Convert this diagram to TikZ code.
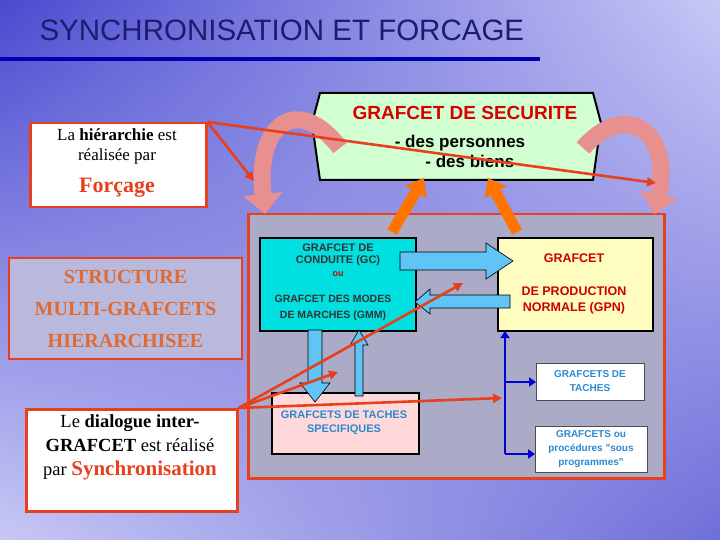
\documentclass[tikz,border=0pt]{standalone}
\usepackage{fontspec}
\setmainfont{Liberation Serif}
\newfontfamily\sans{Liberation Sans}
\usetikzlibrary{arrows.meta,shadings}
\definecolor{bgA}{HTML}{4A4AD0}
\definecolor{bgB}{HTML}{C8C8F6}
\definecolor{rd}{HTML}{E8401C}
\definecolor{orng}{HTML}{E06A30}
\definecolor{cy}{HTML}{00E0E0}
\definecolor{lb}{HTML}{60C4F4}
\definecolor{navy}{HTML}{1C1C70}
\definecolor{tb}{HTML}{2A8AD0}
\definecolor{pk}{HTML}{E89090}
\begin{document}
\begin{tikzpicture}[x=1pt,y=-1pt,
 redbox/.style={draw=rd,line width=2.5pt,fill=white},
 blkbox/.style={draw=black,line width=2pt},
 bluearr/.style={draw=black,fill=lb,line width=0.6pt},
 redln/.style={draw=rd,line width=2.6pt,-{Triangle[length=9pt,width=9pt]}},
 darkbl/.style={draw=blue!85!black,line width=2.4pt},
 pinkarr/.style={draw=pk,line width=17pt,-{Triangle[length=20pt,width=38pt]}},
 orarr/.style={draw=orange!90!red,line width=11pt,-{Triangle[length=16pt,width=24pt]}},
 gt/.style={font=\sans\bfseries\fontsize{11}{12}\selectfont,align=center}]
\useasboundingbox (0,0) rectangle (720,540);
\shade[upper left=bgA,upper right=bgB,lower left=bgB,lower right=bgA!80] (0,0) rectangle (720,540);
\node[font=\sans\fontsize{29.5}{31}\selectfont,text=navy,anchor=west] (title) at (36,30) {SYNCHRONISATION ET FORCAGE};
\fill[blue!70!black] (0,57) rectangle (540,61);
% left boxes
\node[redbox,minimum width=176pt,minimum height=84pt,anchor=north west,align=center,inner sep=0pt] (forc) at (29,122) {};
\node[align=center,font=\fontsize{17}{20}\selectfont] at (117,146) {La \textbf{hiérarchie} est\\réalisée par};
\node[text=rd,font=\bfseries\fontsize{22}{22}\selectfont] at (117,188) {Forçage};
\node[draw=rd,line width=2pt,fill=bgB!80!gray,minimum width=233pt,minimum height=101pt,anchor=north west,inner sep=0pt,
 text=orng,font=\bfseries\fontsize{20}{32}\selectfont,align=center] (struct) at (8,257) {STRUCTURE\\MULTI-GRAFCETS\\HIERARCHISEE};
\node[redbox,minimum width=211pt,minimum height=102pt,anchor=north west,inner sep=0pt] (dial) at (25,408) {};
\node[align=center,font=\fontsize{18.5}{24}\selectfont] at (130,447) {Le \textbf{dialogue inter-}\\\textbf{GRAFCET} est réalisé\\par {\color{rd}\bfseries\fontsize{21}{22}\selectfont Synchronisation}};
% container
\node[draw=rd,line width=2.5pt,fill=gray!25!bgB!80!gray,minimum width=416pt,minimum height=264pt,anchor=north west,inner sep=0pt] (cont) at (247,213) {};
% securite hexagon
\filldraw[fill=green!18,draw=black,line width=2pt] (320,93) -- (593,93) -- (601,123) -- (593,180) -- (320,180) -- (312,123) -- cycle;
\node[text=red!85!black,font=\sans\bfseries\fontsize{19}{20}\selectfont] (secu) at (465,113) {GRAFCET DE SECURITE};
\node[font=\sans\bfseries\fontsize{17}{20}\selectfont,align=left] (pers) at (460,151) {- des personnes\\\hspace*{1.8em}- des biens};
% pink curved arrows
\draw[pinkarr] (340,148) .. controls (300,95) and (255,120) .. (265,214);
\draw[pinkarr] (583,148) .. controls (625,100) and (672,130) .. (655,214);
% orange arrows
\draw[orarr] (392,232) -- (424,178);
\draw[orarr] (517,232) -- (488,178);
% inner boxes
\node[blkbox,fill=cy,minimum width=156pt,minimum height=93pt,anchor=north west,inner sep=0pt] (gc) at (259,237) {};
\node[gt,text=black!80] at (338,255) {GRAFCET DE\\CONDUITE (GC)};
\node[gt,text=red!80!black,font=\sans\bfseries\fontsize{9}{10}\selectfont] at (338,274) {ou};
\node[gt,text=black!80,font=\sans\bfseries\fontsize{10.5}{16}\selectfont] at (333,308) {GRAFCET DES MODES\\DE MARCHES (GMM)};
\node[blkbox,fill=yellow!25,minimum width=155pt,minimum height=93pt,anchor=north west,inner sep=0pt] (gpn) at (497,237) {};
\node[gt,text=red!80!black,font=\sans\bfseries\fontsize{12.5}{16}\selectfont] at (574,258) {GRAFCET};
\node[gt,text=red!80!black,font=\sans\bfseries\fontsize{12.5}{16}\selectfont] at (574,300) {DE PRODUCTION\\NORMALE (GPN)};
\node[blkbox,fill=pink!60,minimum width=147pt,minimum height=61pt,anchor=north west,inner sep=0pt] (spec) at (271,392) {};
\node[gt,text=tb,font=\sans\bfseries\fontsize{11}{14}\selectfont] at (344,423) {GRAFCETS DE TACHES\\SPECIFIQUES};
\node[draw=black!70,line width=1pt,fill=white,minimum width=108pt,minimum height=37pt,anchor=north west,inner sep=0pt] (tach) at (536,363) {};
\node[gt,text=tb,font=\sans\bfseries\fontsize{10}{14}\selectfont] at (590,381) {GRAFCETS DE\\TACHES};
\node[draw=black!70,line width=1pt,fill=white,minimum width=112pt,minimum height=46pt,anchor=north west,inner sep=0pt] (proc) at (535,426) {};
\node[gt,text=tb,font=\sans\bfseries\fontsize{10}{14}\selectfont] at (591,449) {GRAFCETS ou\\procédures "sous\\programmes"};
% blue block arrows
\filldraw[bluearr] (400,252) -- (486,252) -- (486,243) -- (513,261) -- (486,279) -- (486,270) -- (400,270) -- cycle;
\filldraw[bluearr] (510,295) -- (430,295) -- (430,289) -- (415,302) -- (430,314) -- (430,308) -- (510,308) -- cycle;
\filldraw[bluearr] (308,330) -- (322,330) -- (322,383) -- (330,383) -- (315,402) -- (300,383) -- (308,383) -- cycle;
\filldraw[bluearr] (355,396) -- (363,396) -- (363,345) -- (368,345) -- (359,330) -- (350,345) -- (355,345) -- cycle;
% dark blue tree
\coordinate (br1) at (505,382);
\coordinate (br2) at (505,454);
\draw[darkbl,-{Triangle[length=7pt,width=9pt]}] (br2) -- (505,331);
\draw[darkbl,-{Triangle[length=7pt,width=9pt]}] (br1) -- (tach.west|-br1);
\draw[darkbl,-{Triangle[length=7pt,width=9pt]}] (br2) -- (proc.west|-br2);
% red lines
\coordinate (e1) at (656,183);
\coordinate (e2) at (254,181);
\coordinate (e3) at (463,283);
\coordinate (e4) at (338,372);
\coordinate (e5) at (502,398);
\draw[redln] (forc.north east) -- (e1);
\draw[redln] (forc.north east) -- (e2);
\draw[redln] (dial.north east) -- (e3);
\draw[redln] (dial.north east) -- (e4);
\draw[redln] (dial.north east) -- (e5);
\end{tikzpicture}
\end{document}
